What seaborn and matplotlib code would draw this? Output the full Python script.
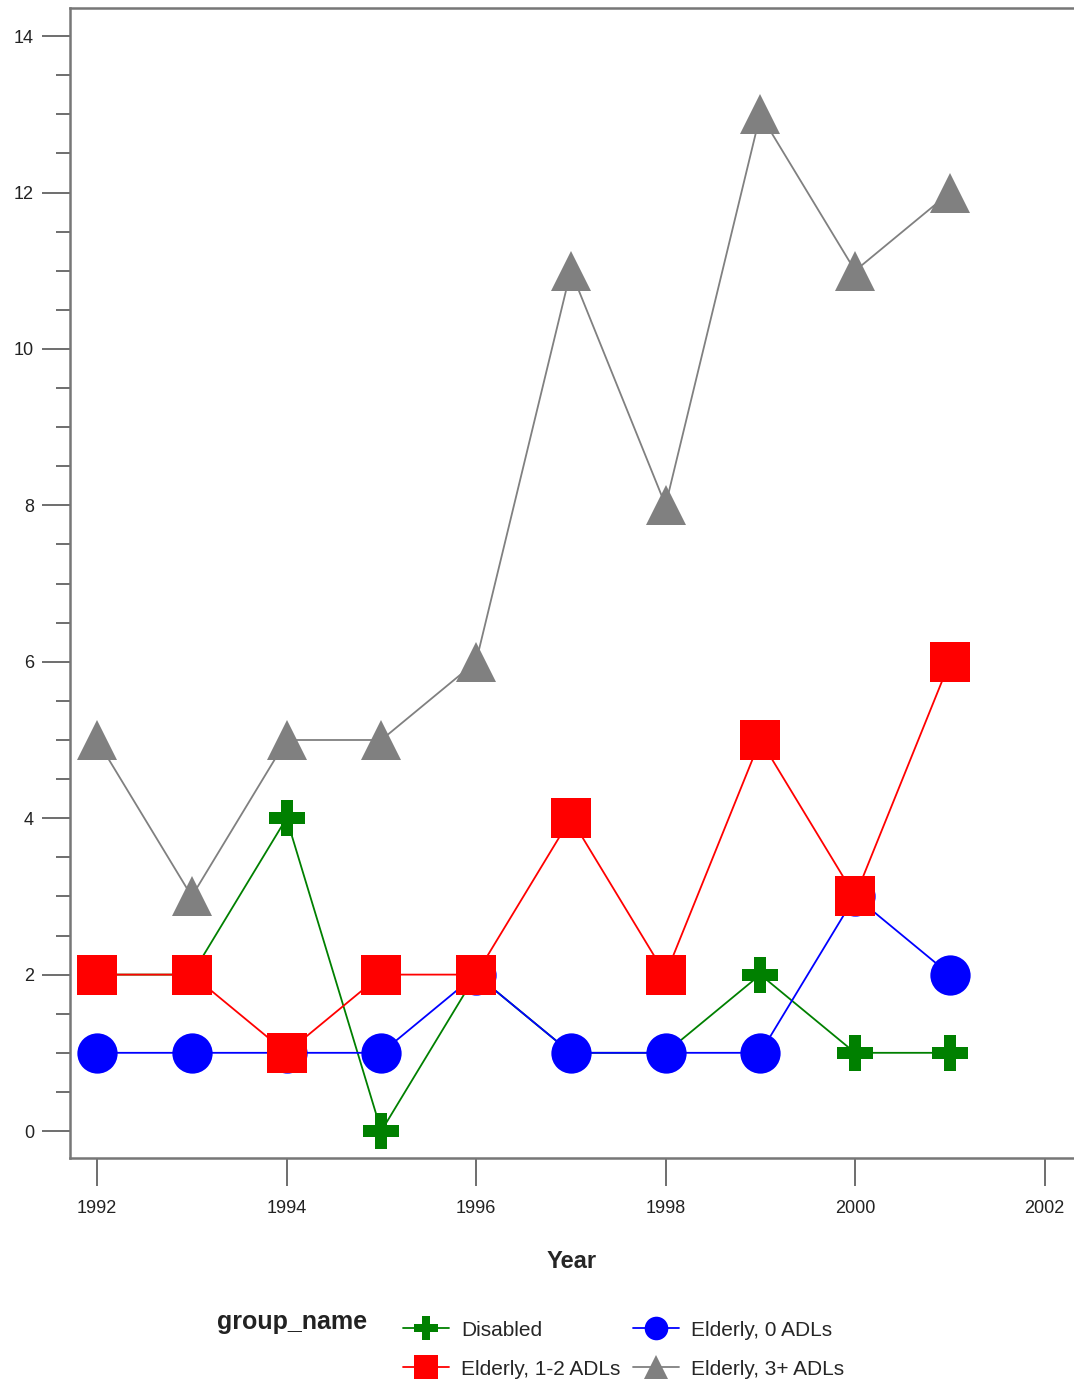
import pandas as pd
import seaborn as sns
import matplotlib.pyplot as plt
from matplotlib.ticker import MultipleLocator

# Datos
years = [1992, 1993, 1994, 1995, 1996, 1997, 1998, 1999, 2000, 2001]
disabled = [2, 2, 4, 0, 2, 1, 1, 2, 1, 1]
elderly_0 = [1, 1, 1, 1, 2, 1, 1, 1, 3, 2]
elderly_12 = [2, 2, 1, 2, 2, 4, 2, 5, 3, 6]
elderly_3 = [5, 3, 5, 5, 6, 11, 8, 13, 11, 12]

groups = ["Disabled", "Elderly, 0 ADLs", "Elderly, 1-2 ADLs", "Elderly, 3+ ADLs"]
series = [disabled, elderly_0, elderly_12, elderly_3]

data = pd.DataFrame({
    "Year": years * len(groups),
    "value": sum(series, []),
    "group_name": [g for g in groups for _ in years],
})

colores = {"Disabled": "#008000", "Elderly, 0 ADLs": "#0000ff",
           "Elderly, 1-2 ADLs": "#ff0000", "Elderly, 3+ ADLs": "#808080"}
marcadores = {"Disabled": "P", "Elderly, 0 ADLs": "o",
              "Elderly, 1-2 ADLs": "s", "Elderly, 3+ ADLs": "^"}

sns.set_style("ticks")
plt.rcParams['font.family'] = ['Liberation Sans', 'DejaVu Sans']

fig = plt.figure(figsize=(10.74, 13.84), dpi=100)
ax = fig.add_axes([70 / 1074, 1 - 1158 / 1384, 1 - 70 / 1074, (1158 - 8) / 1384])

sns.lineplot(data=data, x="Year", y="value", hue="group_name", style="group_name",
             palette=colores, markers=marcadores, dashes=False, hue_order=groups,
             style_order=groups, markersize=29, markeredgewidth=0, linewidth=1.3, ax=ax)

# la cruz es algo más chica que los otros marcadores
for linea in ax.lines:
    if linea.get_marker() == "P":
        linea.set_markersize(26)

ax.set_xlim(1991.715, 2002.31)
ax.set_ylim(-0.345, 14.36)
ax.set_xticks([1992, 1994, 1996, 1998, 2000, 2002])
ax.set_yticks([0, 2, 4, 6, 8, 10, 12, 14])
ax.yaxis.set_minor_locator(MultipleLocator(0.5))
ax.tick_params(axis="both", which="major", length=20, width=1.2, color="#555555",
               labelsize=13, labelcolor="#222222")
ax.tick_params(axis="y", which="minor", length=10, width=1.2, color="#555555")
ax.tick_params(axis="x", pad=10)
ax.tick_params(axis="y", pad=6)

for lado in ["top", "left", "bottom"]:
    ax.spines[lado].set_color("#777777")
    ax.spines[lado].set_linewidth(1.8)
ax.spines["right"].set_visible(False)

ax.set_xlabel("Year", fontsize=17, fontweight="bold", labelpad=24)
ax.set_ylabel("")

# Leyenda abajo
handles, labels = ax.get_legend_handles_labels()
ax.get_legend().remove()
orden = [0, 2, 1, 3]
leg = fig.legend([handles[i] for i in orden], [labels[i] for i in orden],
                 loc="upper left", bbox_to_anchor=(384 / 1074, 1 - 1302 / 1384),
                 ncol=2, frameon=False, fontsize=15, handlelength=2.2,
                 columnspacing=0.6, labelspacing=0.95, handletextpad=0.6)
for h in leg.legend_handles:
    h.set_markersize(17)
fig.text(217 / 1074, 1 - 1322 / 1384, "group_name", fontsize=18, fontweight="bold",
         va="center", ha="left", color="#222222")

plt.savefig("out.png", dpi=100)
